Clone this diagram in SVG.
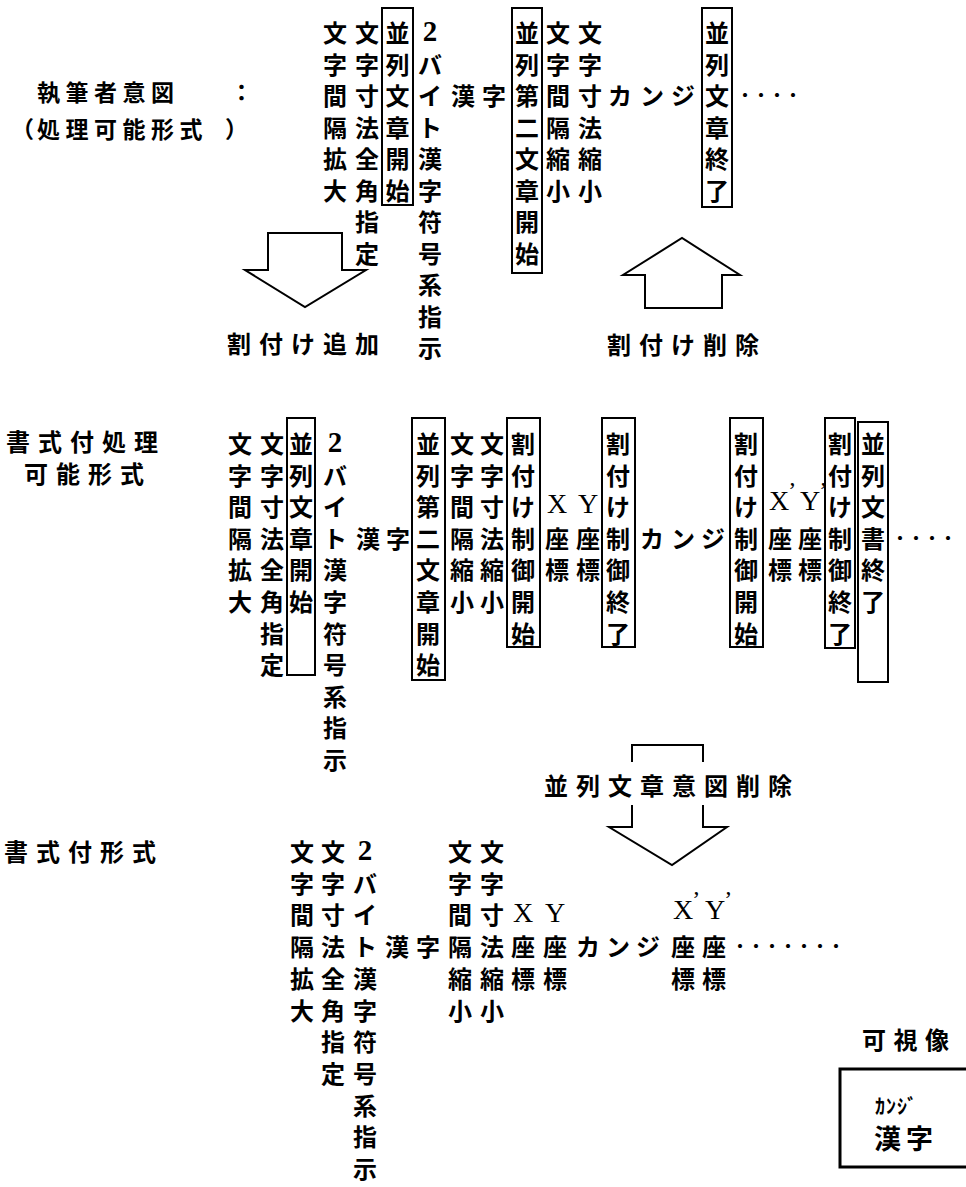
<svg xmlns="http://www.w3.org/2000/svg" width="966" height="1187" viewBox="0 0 966 1187">
<style>
.c{font-family:"Noto Sans CJK JP","Noto Sans CJK SC",sans-serif;font-weight:700;font-size:24px;text-anchor:middle;dominant-baseline:central;fill:#000}
.l{font-family:"Noto Sans CJK JP","Noto Sans CJK SC",sans-serif;font-weight:700;font-size:24px;dominant-baseline:central;letter-spacing:8px;fill:#000}
.s{font-family:"Liberation Serif",serif;font-size:28px;text-anchor:middle;dominant-baseline:central;fill:#000}
.n{font-family:"Liberation Serif",serif;font-weight:700;font-size:29px}
.p{font-size:24px}
.d{font-family:"Noto Sans CJK JP",sans-serif;font-weight:700;font-size:16px;dominant-baseline:central;fill:#000}
.box{fill:none;stroke:#000;stroke-width:2}
.arr{fill:#fff;stroke:#000;stroke-width:2;stroke-linejoin:miter}
</style>
<rect width="966" height="1187" fill="#fff"/>

<g id="label-top">
<text class="l" y="91" style="font-size:23px;letter-spacing:5.5px"><tspan x="37">執筆者意図</tspan><tspan x="230">：</tspan></text>
<text class="l" y="128" style="font-size:23px;letter-spacing:5.5px"><tspan x="11">（</tspan><tspan x="37">処理可能形式</tspan><tspan x="225">）</tspan></text>
</g>
<g id="label-mid">
<text class="l" x="6" y="440">書式付処理</text>
<text class="l" x="24" y="472">可能形式</text>
</g>
<g id="label-bot">
<text class="l" x="4" y="850">書式付形式</text>
</g>

<g id="top-c1"><text class="c"><tspan x="335" y="31">文</tspan><tspan x="335" y="62.5">字</tspan><tspan x="335" y="94">間</tspan><tspan x="335" y="125.5">隔</tspan><tspan x="335" y="157">拡</tspan><tspan x="335" y="188.5">大</tspan></text></g>
<g id="top-c2"><text class="c"><tspan x="367" y="31">文</tspan><tspan x="367" y="62.5">字</tspan><tspan x="367" y="94">寸</tspan><tspan x="367" y="125.5">法</tspan><tspan x="367" y="157">全</tspan><tspan x="367" y="188.5">角</tspan><tspan x="367" y="220">指</tspan><tspan x="367" y="251.5">定</tspan></text></g>
<g id="top-b1"><rect class="box" x="382" y="8" width="31" height="197"/><text class="c"><tspan x="397.5" y="31">並</tspan><tspan x="397.5" y="62.5">列</tspan><tspan x="397.5" y="94">文</tspan><tspan x="397.5" y="125.5">章</tspan><tspan x="397.5" y="157">開</tspan><tspan x="397.5" y="188.5">始</tspan></text></g>
<g id="top-c3"><text class="c"><tspan class="n" x="430" y="31">2</tspan><tspan x="430" y="62.5">バ</tspan><tspan x="430" y="94">イ</tspan><tspan x="430" y="125.5">ト</tspan><tspan x="430" y="157">漢</tspan><tspan x="430" y="188.5">字</tspan><tspan x="430" y="220">符</tspan><tspan x="430" y="251.5">号</tspan><tspan x="430" y="283">系</tspan><tspan x="430" y="314.5">指</tspan><tspan x="430" y="346">示</tspan></text></g>
<g id="top-kanji"><text class="c"><tspan x="463" y="94">漢</tspan><tspan x="494" y="94">字</tspan></text></g>
<g id="top-b2"><rect class="box" x="512" y="8" width="30" height="265"/><text class="c"><tspan x="527" y="31">並</tspan><tspan x="527" y="62.5">列</tspan><tspan x="527" y="94">第</tspan><tspan x="527" y="125.5">二</tspan><tspan x="527" y="157">文</tspan><tspan x="527" y="188.5">章</tspan><tspan x="527" y="220">開</tspan><tspan x="527" y="251.5">始</tspan></text></g>
<g id="top-c4"><text class="c"><tspan x="558" y="31">文</tspan><tspan x="558" y="62.5">字</tspan><tspan x="558" y="94">間</tspan><tspan x="558" y="125.5">隔</tspan><tspan x="558" y="157">縮</tspan><tspan x="558" y="188.5">小</tspan></text></g>
<g id="top-c5"><text class="c"><tspan x="590" y="31">文</tspan><tspan x="590" y="62.5">字</tspan><tspan x="590" y="94">寸</tspan><tspan x="590" y="125.5">法</tspan><tspan x="590" y="157">縮</tspan><tspan x="590" y="188.5">小</tspan></text></g>
<g id="top-kana"><text class="c"><tspan x="620" y="94">カ</tspan><tspan x="652" y="94">ン</tspan><tspan x="683" y="94">ジ</tspan></text></g>
<g id="top-b3"><rect class="box" x="702" y="8" width="30" height="199"/><text class="c"><tspan x="717" y="31">並</tspan><tspan x="717" y="62.5">列</tspan><tspan x="717" y="94">文</tspan><tspan x="717" y="125.5">章</tspan><tspan x="717" y="157">終</tspan><tspan x="717" y="188.5">了</tspan></text></g>
<g id="top-dots"><text class="d" x="737" y="94">・・・・</text></g>

<g id="label-add"><text class="l" x="227" y="342">割付け追加</text></g>
<g id="label-del"><text class="l" x="607" y="343">割付け削除</text></g>

<g id="mid-c1"><text class="c"><tspan x="240" y="442">文</tspan><tspan x="240" y="473.6">字</tspan><tspan x="240" y="505.2">間</tspan><tspan x="240" y="536.8">隔</tspan><tspan x="240" y="568.4">拡</tspan><tspan x="240" y="600">大</tspan></text></g>
<g id="mid-c2"><text class="c"><tspan x="272" y="442">文</tspan><tspan x="272" y="473.6">字</tspan><tspan x="272" y="505.2">寸</tspan><tspan x="272" y="536.8">法</tspan><tspan x="272" y="568.4">全</tspan><tspan x="272" y="600">角</tspan><tspan x="272" y="631.6">指</tspan><tspan x="272" y="663.2">定</tspan></text></g>
<g id="mid-b1"><rect class="box" x="287" y="418" width="28" height="257"/><text class="c"><tspan x="301" y="442">並</tspan><tspan x="301" y="473.6">列</tspan><tspan x="301" y="505.2">文</tspan><tspan x="301" y="536.8">章</tspan><tspan x="301" y="568.4">開</tspan><tspan x="301" y="600">始</tspan></text></g>
<g id="mid-c3"><text class="c"><tspan class="n" x="335" y="442">2</tspan><tspan x="335" y="473.6">バ</tspan><tspan x="335" y="505.2">イ</tspan><tspan x="335" y="536.8">ト</tspan><tspan x="335" y="568.4">漢</tspan><tspan x="335" y="600">字</tspan><tspan x="335" y="631.6">符</tspan><tspan x="335" y="663.2">号</tspan><tspan x="335" y="694.8">系</tspan><tspan x="335" y="726.4">指</tspan><tspan x="335" y="758">示</tspan></text></g>
<g id="mid-kanji"><text class="c"><tspan x="368" y="536.8">漢</tspan><tspan x="398" y="536.8">字</tspan></text></g>
<g id="mid-b2"><rect class="box" x="412" y="418" width="33" height="262"/><text class="c"><tspan x="428" y="442">並</tspan><tspan x="428" y="473.6">列</tspan><tspan x="428" y="505.2">第</tspan><tspan x="428" y="536.8">二</tspan><tspan x="428" y="568.4">文</tspan><tspan x="428" y="600">章</tspan><tspan x="428" y="631.6">開</tspan><tspan x="428" y="663.2">始</tspan></text></g>
<g id="mid-c4"><text class="c"><tspan x="462" y="442">文</tspan><tspan x="462" y="473.6">字</tspan><tspan x="462" y="505.2">間</tspan><tspan x="462" y="536.8">隔</tspan><tspan x="462" y="568.4">縮</tspan><tspan x="462" y="600">小</tspan></text></g>
<g id="mid-c5"><text class="c"><tspan x="492" y="442">文</tspan><tspan x="492" y="473.6">字</tspan><tspan x="492" y="505.2">寸</tspan><tspan x="492" y="536.8">法</tspan><tspan x="492" y="568.4">縮</tspan><tspan x="492" y="600">小</tspan></text></g>
<g id="mid-b3"><rect class="box" x="507" y="418" width="33" height="229"/><text class="c"><tspan x="523" y="442">割</tspan><tspan x="523" y="473.6">付</tspan><tspan x="523" y="505.2">け</tspan><tspan x="523" y="536.8">制</tspan><tspan x="523" y="568.4">御</tspan><tspan x="523" y="600">開</tspan><tspan x="523" y="631.6">始</tspan></text></g>
<g id="mid-x"><text class="s" x="557" y="503">X</text><text class="c"><tspan x="557" y="536.8">座</tspan><tspan x="557" y="568.4">標</tspan></text></g>
<g id="mid-y"><text class="s" x="588" y="503">Y</text><text class="c"><tspan x="588" y="536.8">座</tspan><tspan x="588" y="568.4">標</tspan></text></g>
<g id="mid-b4"><rect class="box" x="602" y="418" width="33" height="229"/><text class="c"><tspan x="618" y="442">割</tspan><tspan x="618" y="473.6">付</tspan><tspan x="618" y="505.2">け</tspan><tspan x="618" y="536.8">制</tspan><tspan x="618" y="568.4">御</tspan><tspan x="618" y="600">終</tspan><tspan x="618" y="631.6">了</tspan></text></g>
<g id="mid-kana"><text class="c"><tspan x="652" y="536.8">カ</tspan><tspan x="683" y="536.8">ン</tspan><tspan x="713" y="536.8">ジ</tspan></text></g>
<g id="mid-b5"><rect class="box" x="730" y="418" width="33" height="229"/><text class="c"><tspan x="746" y="442">割</tspan><tspan x="746" y="473.6">付</tspan><tspan x="746" y="505.2">け</tspan><tspan x="746" y="536.8">制</tspan><tspan x="746" y="568.4">御</tspan><tspan x="746" y="600">開</tspan><tspan x="746" y="631.6">始</tspan></text></g>
<g id="mid-x2"><text class="s" x="769" y="500" style="text-anchor:start">X<tspan class="p" dx="-1" dy="-10">’</tspan></text><text class="c"><tspan x="780" y="536.8">座</tspan><tspan x="780" y="568.4">標</tspan></text></g>
<g id="mid-y2"><text class="s" x="800" y="500" style="text-anchor:start">Y<tspan class="p" dx="-1" dy="-10">’</tspan></text><text class="c"><tspan x="810" y="536.8">座</tspan><tspan x="810" y="568.4">標</tspan></text></g>
<g id="mid-b6"><rect class="box" x="825" y="418" width="30" height="230"/><text class="c"><tspan x="840" y="442">割</tspan><tspan x="840" y="473.6">付</tspan><tspan x="840" y="505.2">け</tspan><tspan x="840" y="536.8">制</tspan><tspan x="840" y="568.4">御</tspan><tspan x="840" y="600">終</tspan><tspan x="840" y="631.6">了</tspan></text></g>
<g id="mid-b7"><rect class="box" x="858" y="422" width="30" height="260"/><text class="c"><tspan x="873" y="442">並</tspan><tspan x="873" y="473.6">列</tspan><tspan x="873" y="505.2">文</tspan><tspan x="873" y="536.8">書</tspan><tspan x="873" y="568.4">終</tspan><tspan x="873" y="600">了</tspan></text></g>
<g id="mid-dots"><text class="d" x="892" y="536.8">・・・・</text></g>

<g id="label-remove"><text class="l" x="544" y="784">並列文章意図削除</text></g>

<g id="bot-c1"><text class="c"><tspan x="302" y="850">文</tspan><tspan x="302" y="881.7">字</tspan><tspan x="302" y="913.4">間</tspan><tspan x="302" y="945.1">隔</tspan><tspan x="302" y="976.8">拡</tspan><tspan x="302" y="1008.5">大</tspan></text></g>
<g id="bot-c2"><text class="c"><tspan x="333" y="850">文</tspan><tspan x="333" y="881.7">字</tspan><tspan x="333" y="913.4">寸</tspan><tspan x="333" y="945.1">法</tspan><tspan x="333" y="976.8">全</tspan><tspan x="333" y="1008.5">角</tspan><tspan x="333" y="1040.2">指</tspan><tspan x="333" y="1071.9">定</tspan></text></g>
<g id="bot-c3"><text class="c"><tspan class="n" x="365" y="850">2</tspan><tspan x="365" y="881.7">バ</tspan><tspan x="365" y="913.4">イ</tspan><tspan x="365" y="945.1">ト</tspan><tspan x="365" y="976.8">漢</tspan><tspan x="365" y="1008.5">字</tspan><tspan x="365" y="1040.2">符</tspan><tspan x="365" y="1071.9">号</tspan><tspan x="365" y="1103.6">系</tspan><tspan x="365" y="1135.3">指</tspan><tspan x="365" y="1167">示</tspan></text></g>
<g id="bot-kanji"><text class="c"><tspan x="397" y="945.1">漢</tspan><tspan x="428" y="945.1">字</tspan></text></g>
<g id="bot-c4"><text class="c"><tspan x="460" y="850">文</tspan><tspan x="460" y="881.7">字</tspan><tspan x="460" y="913.4">間</tspan><tspan x="460" y="945.1">隔</tspan><tspan x="460" y="976.8">縮</tspan><tspan x="460" y="1008.5">小</tspan></text></g>
<g id="bot-c5"><text class="c"><tspan x="492" y="850">文</tspan><tspan x="492" y="881.7">字</tspan><tspan x="492" y="913.4">寸</tspan><tspan x="492" y="945.1">法</tspan><tspan x="492" y="976.8">縮</tspan><tspan x="492" y="1008.5">小</tspan></text></g>
<g id="bot-x"><text class="s" x="523" y="912">X</text><text class="c"><tspan x="523" y="945.1">座</tspan><tspan x="523" y="976.8">標</tspan></text></g>
<g id="bot-y"><text class="s" x="555" y="912">Y</text><text class="c"><tspan x="555" y="945.1">座</tspan><tspan x="555" y="976.8">標</tspan></text></g>
<g id="bot-kana"><text class="c"><tspan x="588" y="945.1">カ</tspan><tspan x="618" y="945.1">ン</tspan><tspan x="648" y="945.1">ジ</tspan></text></g>
<g id="bot-x2"><text class="s" x="673" y="909" style="text-anchor:start">X<tspan class="p" dx="-1" dy="-10">’</tspan></text><text class="c"><tspan x="683" y="945.1">座</tspan><tspan x="683" y="976.8">標</tspan></text></g>
<g id="bot-y2"><text class="s" x="705" y="909" style="text-anchor:start">Y<tspan class="p" dx="-1" dy="-10">’</tspan></text><text class="c"><tspan x="714" y="945.1">座</tspan><tspan x="714" y="976.8">標</tspan></text></g>
<g id="bot-dots"><text class="d" x="732" y="945.1">・・・・・・・</text></g>

<g id="visual">
<text class="l" x="862" y="1038" style="letter-spacing:7.5px">可視像</text>
<rect x="840" y="1069" width="140" height="98" fill="none" stroke="#000" stroke-width="3"/>
<text class="l" x="875" y="1105" style="font-size:20px;letter-spacing:1px">ｶﾝｼﾞ</text>
<text class="l" x="874" y="1137" style="font-size:27px;letter-spacing:5px">漢字</text>
</g>

<g id="connectors">
<path class="arr" d="M268,233 H342 V270 H366 L305,307 L245,270 H268 Z"/>
<path class="arr" d="M645,308 V275 H623 L682,238 L740,275 H722 V308 Z"/>
<path class="arr" style="fill:none" d="M632,762 V745 H703 V762"/>
<path class="arr" style="fill:none" d="M632,805 V827 H609 L672,865 L727,827 H703 V805"/>
</g>
</svg>
